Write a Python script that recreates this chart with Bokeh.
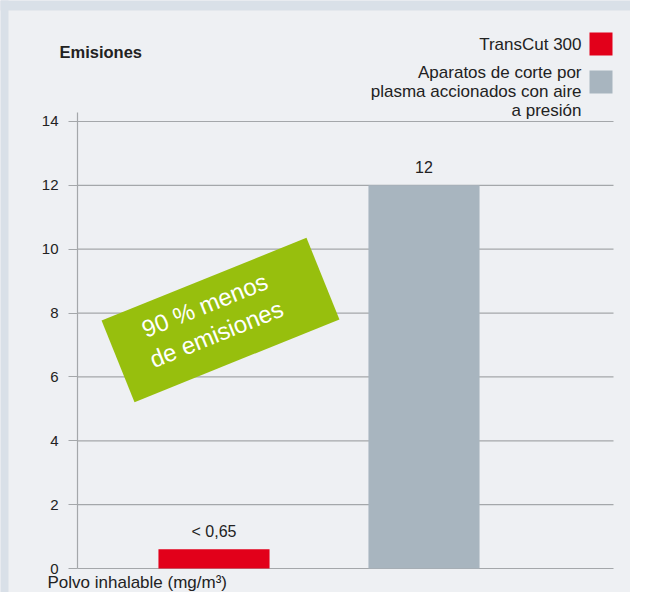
from bokeh.plotting import figure
from bokeh.models import Range1d, FixedTicker, Label, BoxAnnotation, ColumnDataSource
from bokeh.embed import file_html
from bokeh.resources import INLINE
from bokeh.core.properties import value

# ---- data ----
categories = ["TransCut 300", "Aparatos de corte por plasma accionados con aire a presión"]
legend_labels = ["TransCut 300", "Aparatos de corte por\nplasma accionados con aire\na presión"]
values = [0.6, 12]
value_labels = ["< 0,65", "12"]
colors = ["#e2001a", "#a8b5bf"]
y_ticks = [0, 2, 4, 6, 8, 10, 12, 14]
y_title = "Emisiones"
x_title = "Polvo inhalable (mg/m³)"
badge_text = "90 % menos\nde emisiones"

FONT = "Liberation Sans"
TXT = "#222222"
PANEL = "#eef0f3"
OUTER = "#d9e0e8"
GRID = "#a4a7aa"
W, H = 630, 592

xs = [i + 0.5 for i in range(len(categories))]

# pixel helpers (canvas coordinates -> data) for annotation placement
X0, XS = 77, 210.0
Y0, YS = 568, 31.93
def dx(px):
    return -0.15 + (px - X0) / XS
def dy(py):
    return (Y0 - py) / YS

p = figure(width=W, height=H, output_backend="svg", toolbar_location=None,
           x_range=Range1d(dx(0), dx(W)), y_range=Range1d(dy(H), dy(0)),
           x_axis_type=None, min_border=0)
p.background_fill_color = PANEL
p.border_fill_color = PANEL
p.outline_line_color = None
p.xgrid.visible = False
p.ygrid.visible = False

# outer frame strips (left and top)
p.quad(left=[dx(-5), dx(-5)], right=[dx(8), dx(W + 5)], top=[dy(-5), dy(-5)],
       bottom=[dy(H + 5), dy(10)], fill_color=OUTER, line_color=None)

# gridlines across the plotting area
p.segment(x0=[dx(77)] * len(y_ticks), x1=[dx(613)] * len(y_ticks), y0=y_ticks, y1=y_ticks,
          line_color=GRID, line_width=1.2)

ax = p.yaxis[0]
ax.fixed_location = dx(77)
ax.ticker = FixedTicker(ticks=y_ticks)
ax.bounds = (0, dy(112))
ax.axis_line_color = GRID
ax.axis_line_width = 1.2
ax.major_tick_line_color = GRID
ax.major_tick_line_width = 1.2
ax.major_tick_out = 9
ax.major_tick_in = 0
ax.minor_tick_line_color = None
ax.major_label_standoff = 10
ax.major_label_text_font = FONT
ax.major_label_text_font_size = "15px"
ax.major_label_text_color = TXT

src = ColumnDataSource(dict(x=xs, top=values, color=colors, lab=value_labels))
p.vbar(x="x", top="top", bottom=0, width=0.529, fill_color="color", line_color=None, source=src)
p.text(x="x", y="top", text="lab", source=src, text_align="center", text_baseline="middle",
       y_offset=-18, text_font=value(FONT), text_font_size="16px", text_color=TXT)

# badge
p.rect(x=[dx(220)], y=[dy(319.5)], width=221, height=88, width_units="screen", height_units="screen",
       angle=22, angle_units="deg", fill_color="#97bf0d", line_color=None)
p.text(x=[dx(210)], y=[dy(319)], text=[badge_text], angle=22, angle_units="deg",
       text_align="center", text_baseline="middle", text_font=value(FONT),
       text_font_size="24px", text_color="white", text_line_height=1.15)

# titles
p.add_layout(Label(x=dx(59), y=dy(51), text=y_title, text_font=FONT, text_font_size="16.5px",
                   text_font_style="bold", text_color=TXT, text_baseline="middle"))
p.add_layout(Label(x=dx(47), y=dy(582), text=x_title, text_font=FONT, text_font_size="17px",
                   text_color=TXT, text_baseline="middle"))

# legend
sq = [(32, 55), (70, 93)]
first_line = [44, 72]
for i, lab in enumerate(legend_labels):
    t, b = sq[i]
    p.add_layout(BoxAnnotation(left=dx(589), right=dx(612), top=dy(t), bottom=dy(b),
                               fill_color=colors[i], fill_alpha=1, line_color=None))
    for j, line in enumerate(lab.split("\n")):
        p.add_layout(Label(x=dx(581), y=dy(first_line[i] + 19 * j), text=line, text_font=FONT,
                           text_font_size="17px", text_color=TXT, text_align="right",
                           text_baseline="middle"))

open("out.html", "w").write(file_html(p, INLINE))
